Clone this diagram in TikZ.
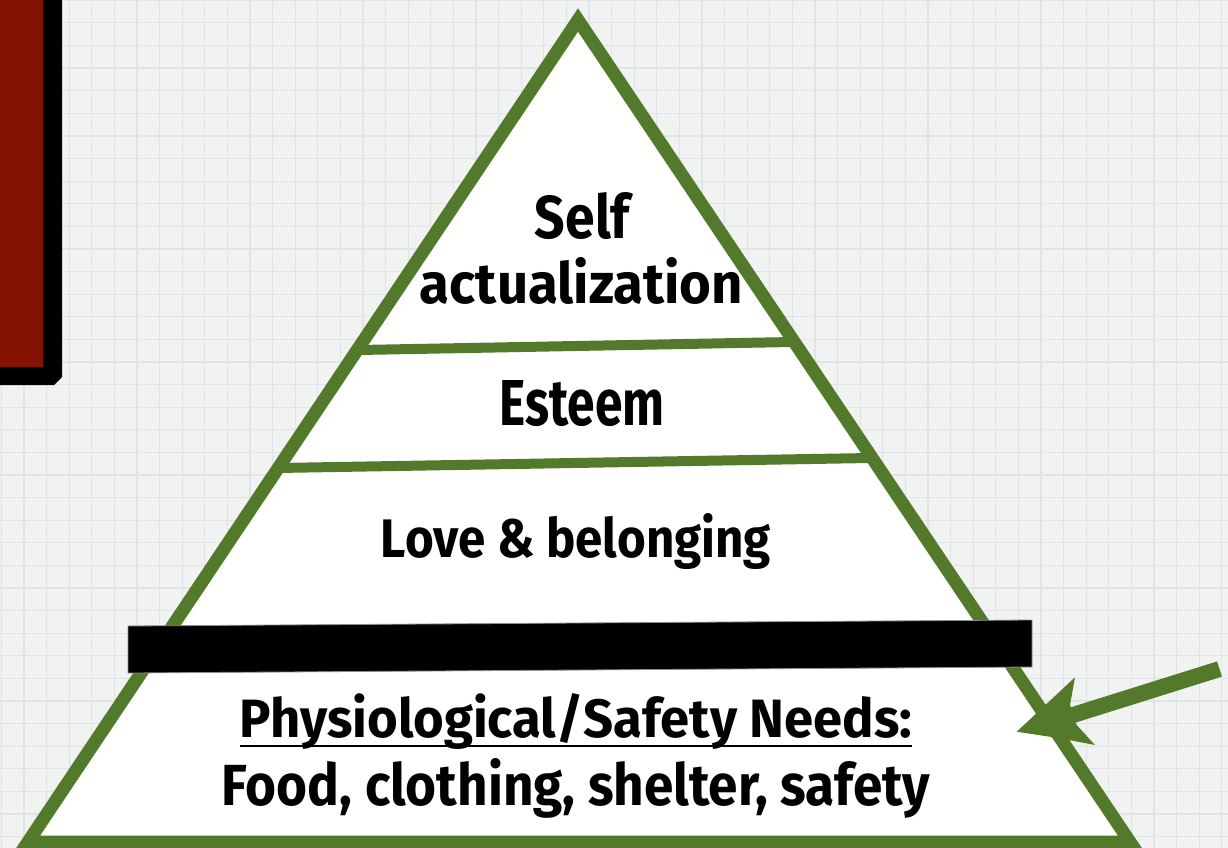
\documentclass[tikz,border=0pt]{standalone}
\usepackage{fontspec}
\setmainfont{Fira Sans}
\usepackage{graphicx}
\usetikzlibrary{calc}
\definecolor{pgreen}{HTML}{537A2A}
\definecolor{pred}{HTML}{841200}
\definecolor{paper}{HTML}{F1F2F2}
\definecolor{gridc}{HTML}{E0E4E6}
\tikzset{
  tiertext/.style={anchor=base, inner sep=0pt, font=\bfseries},
  divider/.style={draw=pgreen, line width=10pt},
  gridline/.style={draw=gridc, line width=1.2pt}
}
\begin{document}
\begin{tikzpicture}[x=1pt,y=-1pt]
\useasboundingbox (0,0) rectangle (1228,848);
\clip (0,0) rectangle (1228,848);
% paper background
\fill[paper] (0,0) rectangle (1228,848);
\foreach \i in {0,...,54} \draw[gridline] ({1.4+22.6*\i},0) -- ({1.4+22.6*\i},848);
\foreach \i in {0,...,38} \draw[gridline] (0,{0.3+22.6*\i}) -- (1228,{0.3+22.6*\i});
% red block with shadow
\fill[black] (0,0) -- (62,0) -- (62,377) -- (54,385) -- (0,385) -- cycle;
\fill[pred] (0,0) rectangle (43,367);
% pyramid
\coordinate (apex) at (578,20);
\coordinate (bl) at (28,842);
\coordinate (br) at (1130,842);
\filldraw[fill=white, draw=pgreen, line width=13pt, line join=miter] (apex) -- (br) -- (bl) -- cycle;
\draw[divider] ($(apex)!0.4015!(bl)$) -- ($(apex)!0.3917!(br)$);
\draw[divider] ($(apex)!0.545!(bl)$) -- ($(apex)!0.5328!(br)$);
% black bar
\filldraw[fill=black, draw=black!45, line width=0.8pt] (128,626) -- (1032,620) -- (1032,667) -- (128,673) -- cycle;
% texts
\node[tiertext] (self) at (582.5,238) {\resizebox{95pt}{46pt}{Self}};
\node[tiertext] (actual) at (581.5,303) {\resizebox{323pt}{46pt}{actualization}};
\node[tiertext] (esteem) at (582,425) {\resizebox{165pt}{45pt}{Esteem}};
\node[tiertext] (love) at (576,557) {\resizebox{390pt}{44pt}{Love \& belonging}};
\node[tiertext] (phys) at (576,737) {\resizebox{672pt}{44pt}{Physiological/Safety Needs:}};
\node[tiertext] (food) at (576,805) {\resizebox{708pt}{47pt}{Food, clothing, shelter, safety}};
\draw[line width=1.5pt] ($(phys.base west)+(0,9)$) -- ($(phys.base east)+(0,9)$);
% arrow
\coordinate (tail) at (1219.5,669);
\coordinate (tip) at (1016.7,731.7);
\draw[pgreen, line width=16pt] (1073,715) -- (tail);
\fill[pgreen] (tip) -- (1075,677.3) -- (1070,705) -- (1076.7,725) -- (1095,745) -- (1060,738.3) -- cycle;
\end{tikzpicture}
\end{document}
